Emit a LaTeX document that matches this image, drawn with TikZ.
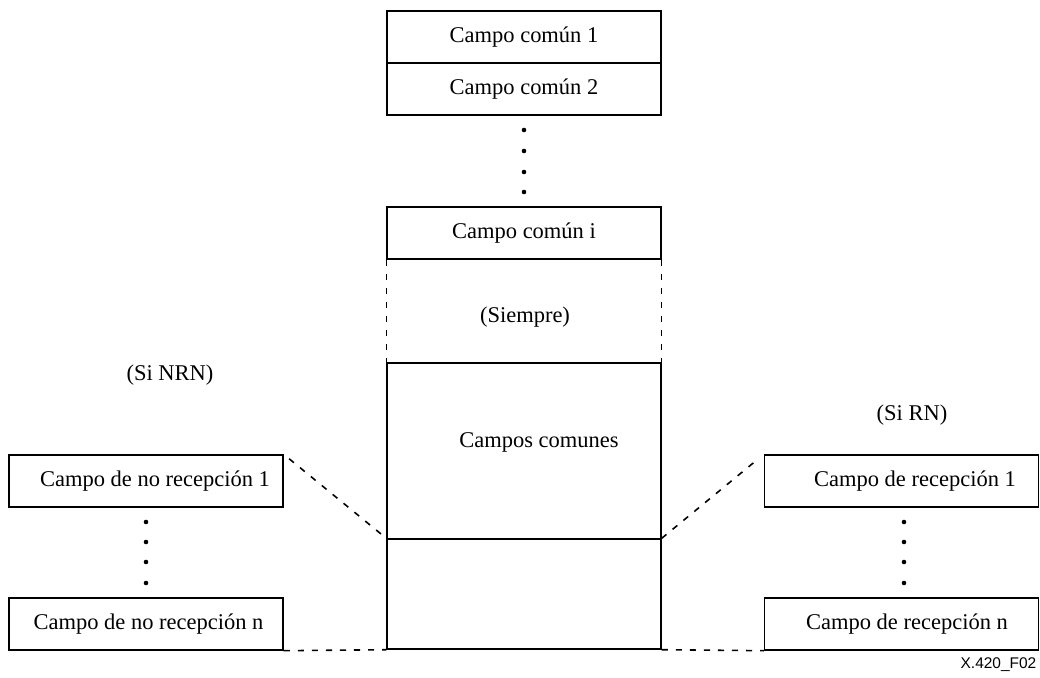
\documentclass[tikz,border=0pt]{standalone}
\usepackage{fontspec}
\setmainfont{Liberation Serif}
\newfontfamily\tagfont{Liberation Sans}
\usetikzlibrary{calc}

\begin{document}
\begin{tikzpicture}[x=1cm, y=-1cm, line width=0.8pt,
    field/.style={draw, rectangle, minimum width=5.48cm, minimum height=1.04cm, inner sep=0pt,
                  font=\fontsize{12.8}{15}\selectfont},
    txt/.style={font=\fontsize{12.8}{15}\selectfont},
    gap/.style={dash pattern=on 3.5pt off 4.5pt, line width=0.9pt}]
  \useasboundingbox (0,0) rectangle (20.8,13.56);

  % common fields
  \node[field] (c1) at (10.48,0.74) {Campo común 1};
  \node[field] (c2) at (10.48,1.78) {Campo común 2};
  \node[field] (ci) at (10.48,4.66) {Campo común i};
  \node[field, minimum height=3.52cm] (cc) at (10.48,9.02) {};
  \node[field, minimum height=2.2cm] (cl) at (10.48,11.88) {};
  \node[txt] (always) at (10.5,6.34) {(Siempre)};
  \node[txt] (cclab) at (10.78,8.84) {Campos comunes};
  \foreach \y in {2.6,3.02,3.44,3.84}
    \fill (10.48,\y) circle (1.3pt);
  \draw[gap] (ci.south west) -- (cc.north west);
  \draw[gap] (ci.south east) -- (cc.north east);

  % non receipt fields
  \node[txt] (nrn) at (3.4,7.5) {(Si NRN)};
  \node[field] (nr1) at (2.92,9.62) {\hspace*{0.36cm}Campo de no recepción 1};
  \node[field] (nrn) at (2.92,12.48) {\hspace*{0.1cm}Campo de no recepción n};
  \foreach \y in {10.44,10.84,11.24,11.66}
    \fill (2.92,\y) circle (1.3pt);

  % receipt fields
  \node[txt] (rn) at (18.24,8.3) {(Si RN)};
  \node[field] (r1) at (18.03,9.62) {\hspace*{0.54cm}Campo de recepción 1};
  \node[field] (rn) at (18.03,12.48) {\hspace*{0.22cm}Campo de recepción n};
  \foreach \y in {10.44,10.84,11.24,11.66}
    \fill (18.08,\y) circle (1.3pt);

  \draw[gap, shorten <=4pt] (nr1.north east) -- (cl.north west);
  \draw[gap] (nrn.south east) -- (cl.south west);
  \draw[gap, shorten >=4pt] (cl.north east) -- (r1.north west);
  \draw[gap] (cl.south east) -- (rn.south west);

  \node[anchor=east, inner sep=0pt, font=\tagfont\fontsize{8.8}{10}\selectfont] (tag) at (20.74,13.3) {X.420\_F02};
\end{tikzpicture}
\end{document}
